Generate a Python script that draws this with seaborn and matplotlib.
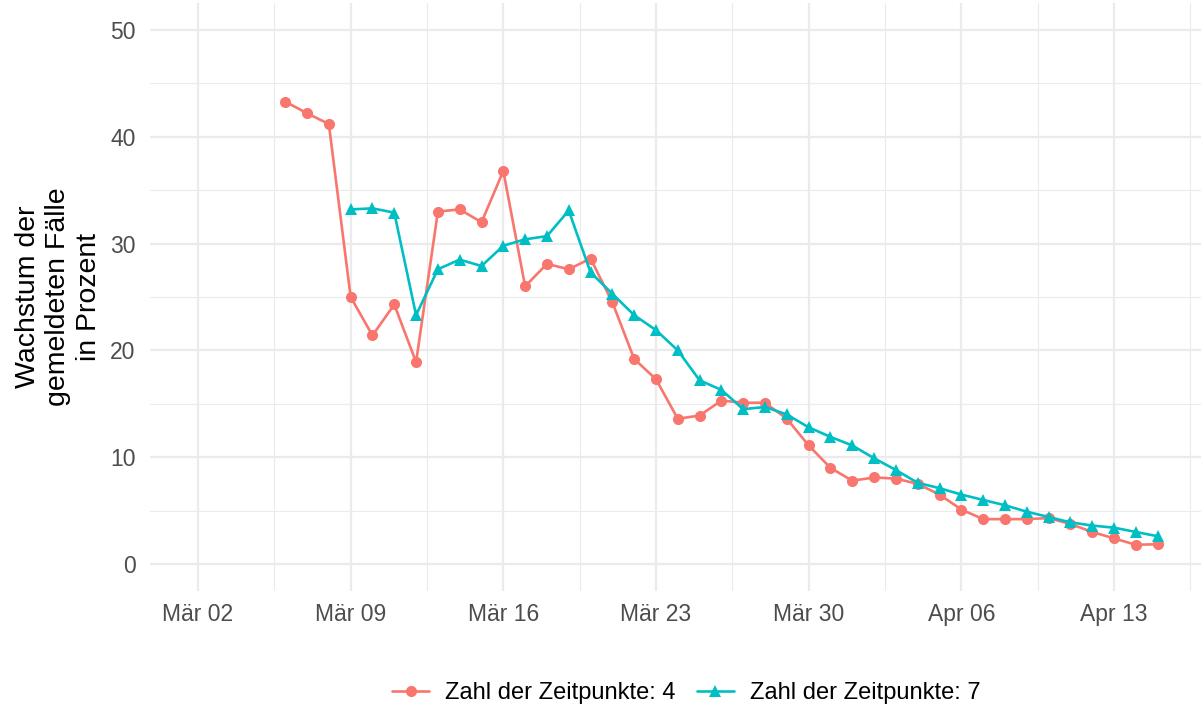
import numpy as np
import pandas as pd
import matplotlib
matplotlib.use("Agg")
import matplotlib.pyplot as plt
import matplotlib.dates as mdates
from matplotlib.lines import Line2D
import seaborn as sns

# ---------------- data ----------------
red_start = "2020-03-06"
red_values = [43.3, 42.2, 41.2, 25.0, 21.4, 24.3, 18.9, 33.0, 33.2, 32.0, 36.8,
              26.0, 28.1, 27.6, 28.6, 24.5, 19.2, 17.3, 13.6, 13.9, 15.3, 15.1,
              15.1, 13.6, 11.1, 9.0, 7.8, 8.1, 8.0, 7.5, 6.5, 5.1, 4.2, 4.2,
              4.2, 4.3, 3.75, 3.0, 2.4, 1.8, 1.85]
teal_start = "2020-03-09"
teal_values = [33.2, 33.3, 32.9, 23.3, 27.6, 28.5, 27.9, 29.8, 30.4, 30.7, 33.1,
               27.3, 25.3, 23.3, 21.9, 20.0, 17.2, 16.3, 14.5, 14.7, 14.0, 12.8,
               11.9, 11.1, 9.9, 8.8, 7.6, 7.1, 6.5, 6.0, 5.5, 4.9, 4.4, 3.9,
               3.6, 3.4, 3.0, 2.6]
series_names = ["Zahl der Zeitpunkte: 4", "Zahl der Zeitpunkte: 7"]
tick_dates = ["2020-03-02", "2020-03-09", "2020-03-16", "2020-03-23",
              "2020-03-30", "2020-04-06", "2020-04-13"]
tick_labels = ["Mär 02", "Mär 09", "Mär 16", "Mär 23", "Mär 30", "Apr 06", "Apr 13"]
y_ticks = [0, 10, 20, 30, 40, 50]
y_label = "Wachstum der\ngemeldeten Fälle\nin Prozent"
colors = ["#F8766D", "#00BFC4"]

df = pd.concat([
    pd.DataFrame({"date": pd.date_range(red_start, periods=len(red_values)),
                  "value": red_values, "group": series_names[0]}),
    pd.DataFrame({"date": pd.date_range(teal_start, periods=len(teal_values)),
                  "value": teal_values, "group": series_names[1]}),
])

# ---------------- figure ----------------
sns.set_theme(style="white")
plt.rcParams["font.family"] = ["Liberation Sans", "DejaVu Sans"]

W, H = 1201, 711
fig = plt.figure(figsize=(W / 100, H / 100), dpi=100)

x0 = mdates.date2num(pd.Timestamp("2020-03-02")) - 2.2
x1 = mdates.date2num(pd.Timestamp("2020-04-15")) + 2.2
px_per_day = (1114 - 198) / 42.0
left_px = 150
right_px = left_px + (x1 - x0) * px_per_day
top_px, bottom_px = 3.3, 590.7
ax = fig.add_axes([left_px / W, 1 - bottom_px / H,
                   (right_px - left_px) / W, (bottom_px - top_px) / H])

sns.lineplot(data=df, x="date", y="value", hue="group", style="group",
             markers=["o", "^"], dashes=False, palette=colors,
             linewidth=1.9, markersize=8, markeredgewidth=0,
             ax=ax, legend=False, zorder=3)

ax.set_xlim(x0, x1)
ax.set_ylim(-2.5, 52.5)
ax.set_xticks([mdates.date2num(pd.Timestamp(d)) for d in tick_dates])
ax.set_xticklabels(tick_labels)
ax.set_yticks(y_ticks)
ax.set_yticklabels([str(v) for v in y_ticks])
minor_x = [mdates.date2num(pd.Timestamp(d)) + 3.5 for d in tick_dates]
ax.set_xticks(minor_x, minor=True)
ax.set_yticks([5, 15, 25, 35, 45], minor=True)

ax.grid(which="major", color="#EBEBEB", linewidth=1.6, zorder=0)
ax.grid(which="minor", color="#EBEBEB", linewidth=0.8, zorder=0)
ax.set_axisbelow(True)
for s in ax.spines.values():
    s.set_visible(False)
ax.tick_params(axis="both", which="both", length=0, labelsize=16.5,
               labelcolor="#4D4D4D")
ax.tick_params(axis="y", pad=10.5)
ax.tick_params(axis="x", pad=9)
ax.set_xlabel("")
ax.set_ylabel(y_label, fontsize=20.5, color="black", linespacing=1.22, labelpad=6)

handles = [Line2D([0], [0], color=colors[0], marker="o", lw=1.9, markersize=8,
                  markeredgewidth=0),
           Line2D([0], [0], color=colors[1], marker="^", lw=1.9, markersize=8.5,
                  markeredgewidth=0)]
leg = fig.legend(handles, series_names, loc="center", ncol=2, frameon=False,
                 bbox_to_anchor=(686 / W, 1 - 693 / H), fontsize=17,
                 handlelength=1.6, handletextpad=0.65, columnspacing=0.9)
for t in leg.get_texts():
    t.set_color("black")

fig.savefig("out.png", dpi=100)
